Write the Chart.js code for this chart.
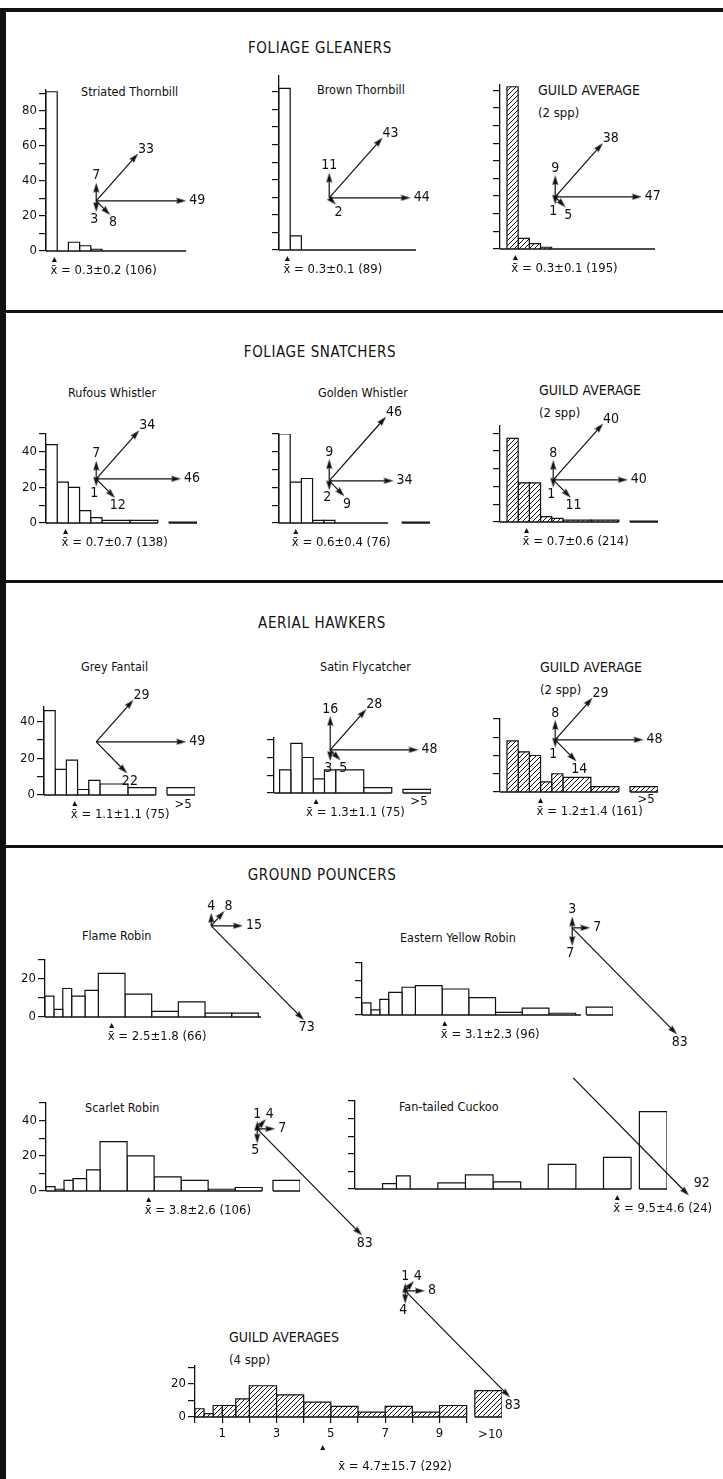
<!DOCTYPE html>
<html>
<head>
<meta charset="utf-8">
<script src="https://cdn.jsdelivr.net/npm/chart.js@4.4.0/dist/chart.umd.min.js"></script>
<style>
  body { margin: 0; background: #fff; }
  #page { position: relative; width: 723px; height: 1479px; overflow: hidden; background: #fff;
          font-family: "DejaVu Sans Condensed", "DejaVu Sans", sans-serif; color: #111; }
  .rule { position: absolute; background: #111; }
  .t { position: absolute; white-space: nowrap; line-height: 1; transform: translateY(-50%); }
  .c { transform: translate(-50%, -50%); }
  canvas { position: absolute; }
</style>
</head>
<body>
<div id="page"></div>
<script>
/* ---------- data ---------- */

const panelTitles = ['FOLIAGE GLEANERS', 'FOLIAGE SNATCHERS', 'AERIAL HAWKERS', 'GROUND POUNCERS'];

const chartIds = ['striated', 'brown', 'gleanerGuild', 'rufous', 'golden', 'snatcherGuild',
                  'fantail', 'satin', 'hawkerGuild', 'flame', 'yellow', 'scarlet', 'cuckoo', 'pouncerGuild'];
const plotNames = [
  ['Striated Thornbill'], ['Brown Thornbill'], ['GUILD AVERAGE', '(2 spp)'],
  ['Rufous Whistler'], ['Golden Whistler'], ['GUILD AVERAGE', '(2 spp)'],
  ['Grey Fantail'], ['Satin Flycatcher'], ['GUILD AVERAGE', '(2 spp)'],
  ['Flame Robin'], ['Eastern Yellow Robin'], ['Scarlet Robin'], ['Fan-tailed Cuckoo'], ['GUILD AVERAGES', '(4 spp)']
];

// time classes (class edges) and the detached last class
const BINS_A   = [0, 0.4, 0.8, 1.2, 1.6, 2, 3, 4];
const OVER_A   = [4.4, 5.4];
const BINS_G8  = [0, 1/3, 2/3, 1, 1.5, 2, 3, 4, 5, 6, 7, 8];
const OVER_G8  = [8.4, 9.4];
const BINS_G10 = [0, 1/3, 2/3, 1, 1.5, 2, 3, 4, 5, 6, 7, 8, 9, 10];
const OVER_G10 = [10.3, 11.3];
const guildTickLabels = [1, 3, 5, 7, 9];

// % of attacks per time class
const striatedPct      = [91, 0, 5, 3, 1, 0, 0];
const brownPct         = [92, 8, 0, 0, 0, 0, 0];
const gleanerGuildPct  = [92, 6, 3, 1, 0, 0, 0];
const rufousPct        = [44, 23, 20, 7, 3, 1.5, 1.5];
const goldenPct        = [50, 23, 25, 1.5, 1.5, 0, 0];
const snatcherGuildPct = [47, 22, 22, 3, 2, 1, 1];
const fantailPct       = [46, 14, 19, 3, 8, 6, 4];
const satinPct         = [13, 28, 20, 8, 13, 13, 3];
const hawkerGuildPct   = [28, 22, 20, 5.5, 10, 8, 3];
const flamePct         = [11, 4, 15, 11, 14, 23, 12, 3, 8, 2, 2];
const yellowPct        = [7, 3, 9, 13, 16, 17, 15, 10, 1.5, 4, 1];
const scarletPct       = [2.5, 1, 6, 7, 12, 28, 20, 8, 6, 1, 2];
const cuckooPct        = [0, 0, 0, 3, 7.5, 0, 3.5, 8, 4, 0, 14, 0, 18];
const pouncerGuildPct  = [5, 2, 7, 7, 11, 19, 13.5, 9, 6.5, 3, 6.5, 3, 7];

const overPct    = [0, 0, 0, 0.5, 0.5, 0.5, 4, 2, 3, 0, 4.5, 6, 44, 16];
const overLabels = ['', '', '', '', '', '', '>5', '>5', '>5', '', '', '', '', '>10'];

// mean ± sd (n)
const meanX = [0.3, 0.3, 0.3, 0.7, 0.6, 0.7, 1.1, 1.3, 1.2, 2.5, 3.1, 3.8, 9.5, 4.7];
const sdX   = [0.2, 0.1, 0.1, 0.7, 0.4, 0.6, 1.1, 1.1, 1.4, 1.8, 2.3, 2.6, 4.6, 15.7];
const nObs  = [106, 89, 195, 138, 76, 214, 75, 75, 161, 66, 96, 106, 24, 292];

// attack directions (%): up, oblique up, horizontal, oblique down, down
const DIRECTIONS = ['up', 'upOblique', 'horizontal', 'downOblique', 'down'];
const striatedDir      = [7, 33, 49, 8, 3];
const brownDir         = [11, 43, 44, 2, null];
const gleanerGuildDir  = [9, 38, 47, 5, 1];
const rufousDir        = [7, 34, 46, 12, 1];
const goldenDir        = [9, 46, 34, 9, 2];
const snatcherGuildDir = [8, 40, 40, 11, 1];
const fantailDir       = [null, 29, 49, 22, null];
const satinDir         = [16, 28, 48, 5, 3];
const hawkerGuildDir   = [8, 29, 48, 14, 1];
const flameDir         = [4, 8, 15, 73, null];
const yellowDir        = [3, null, 7, 83, 7];
const scarletDir       = [1, 4, 7, 83, 5];
const cuckooDir        = [null, null, null, 92, null];
const pouncerGuildDir  = [1, 4, 8, 83, 4];

const pctSeries = [striatedPct, brownPct, gleanerGuildPct, rufousPct, goldenPct, snatcherGuildPct,
                   fantailPct, satinPct, hawkerGuildPct, flamePct, yellowPct, scarletPct, cuckooPct, pouncerGuildPct];
const dirSeries = [striatedDir, brownDir, gleanerGuildDir, rufousDir, goldenDir, snatcherGuildDir,
                   fantailDir, satinDir, hawkerGuildDir, flameDir, yellowDir, scarletDir, cuckooDir, pouncerGuildDir];

/* ---------- layout (pixel positions only) ---------- */

const LAYOUT = {
  striated:      { axisX: 46,  baseY: 251,  ppp: 1.75, yMax: 92, ppu: 28,   xMin: 0,     baseEnd: 5.0, yLabels: true, origin: [92, 200],  name: [81, 92] },
  brown:         { axisX: 279, baseY: 250,  ppp: 1.76, yMax: 99, ppu: 28,   xMin: 0,     baseEnd: 4.9, origin: [325, 197], name: [317, 90] },
  gleanerGuild:  { axisX: 500, baseY: 249,  ppp: 1.76, yMax: 93, ppu: 28,   xMin: -0.25, baseEnd: 5.3, origin: [551, 196], name: [538, 90] },
  rufous:        { axisX: 46,  baseY: 523,  ppp: 1.78, yMax: 50, ppu: 28,   xMin: 0,     baseEnd: 4.0, yLabels: true, origin: [92, 478],  name: [68, 393] },
  golden:        { axisX: 279, baseY: 523,  ppp: 1.78, yMax: 50, ppu: 28,   xMin: 0,     baseEnd: 3.9, origin: [325, 480], name: [318, 393] },
  snatcherGuild: { axisX: 500, baseY: 522,  ppp: 1.78, yMax: 54, ppu: 28,   xMin: -0.25, baseEnd: 4.0, origin: [549, 479], name: [539, 390] },
  fantail:       { axisX: 44,  baseY: 795,  ppp: 1.83, yMax: 48, ppu: 28,   xMin: 0,     baseEnd: 4.0, yLabels: true, origin: [92, 741],  name: [81, 667], overDy: 10 },
  satin:         { axisX: 274, baseY: 793,  ppp: 1.78, yMax: 31, ppu: 28,   xMin: -0.2,  baseEnd: 4.0, origin: [326, 749], name: [320, 667], overDy: 9, textDx: -6 },
  hawkerGuild:   { axisX: 500, baseY: 792,  ppp: 1.83, yMax: 40, ppu: 28,   xMin: -0.25, baseEnd: 4.0, origin: [551, 739], name: [540, 667], overDy: 8 },
  flame:         { axisX: 45,  baseY: 1017, ppp: 1.9,  yMax: 30, ppu: 26.7, xMin: 0,     baseEnd: 8.1, yLabels: true, origin: [207, 925], name: [82, 936] },
  yellow:        { axisX: 362, baseY: 1015, ppp: 1.73, yMax: 30, ppu: 26.7, xMin: 0,     baseEnd: 8.2, origin: [568, 927], name: [400, 938] },
  scarlet:       { axisX: 46,  baseY: 1190, ppp: 1.75, yMax: 50, ppu: 27,   xMin: 0,     baseEnd: 8.0, yLabels: true, origin: [253, 1128], name: [85, 1108] },
  cuckoo:        { axisX: 355, baseY: 1189, ppp: 1.76, yMax: 50, ppu: 27.6, xMin: 0,     baseEnd: 10,  origin: [569, 1077], name: [399, 1107],
                   labelOff: { downOblique: [9, -8, 'left'] } },
  pouncerGuild:  { axisX: 195, baseY: 1417, ppp: 1.63, yMax: 31, ppu: 27.2, xMin: 0,     baseEnd: 10,  yLabels: true, xTicks: true,
                   origin: [401, 1290], name: [229, 1337], hb: 72, markDy: 28, textX: 395, textDy: 50, overDy: 18 }
};
const TITLE_POS = [[320, 48], [320, 352], [322, 623], [322, 875]];
const RULES = [[0, 8, 723, 4], [0, 8, 6, 1471], [0, 310, 723, 3], [0, 580, 723, 3], [0, 845, 723, 3]];

const INK  = '#111';
const FONT = '"DejaVu Sans Condensed", "DejaVu Sans", sans-serif';
const ARROW_PPP = 1.82;
const ANGLE = { up: 90, upOblique: 48, horizontal: 0, downOblique: -45, down: -90 };
const LABEL_OFF = { up: [0, -13, 'center'], upOblique: [4, -9, 'left'], horizontal: [9, 0, 'left'],
                    downOblique: [7, 12, 'center'], down: [-2, 13, 'center'] };

Chart.defaults.font.family = FONT;
Chart.defaults.color = INK;

const page = document.getElementById('page');

/* ---------- helpers ---------- */

function rule(x, y, w, h) {
  const d = document.createElement('div');
  d.className = 'rule';
  Object.assign(d.style, { left: x + 'px', top: y + 'px', width: w + 'px', height: h + 'px' });
  page.appendChild(d);
}

function text(str, x, y, size, centered) {
  const d = document.createElement('div');
  d.className = centered ? 't c' : 't';
  d.textContent = str;
  Object.assign(d.style, { left: x + 'px', top: y + 'px', fontSize: size + 'px' });
  page.appendChild(d);
  return d;
}

const HATCH_TILE = (() => {
  const t = document.createElement('canvas');
  t.width = 5; t.height = 5;
  const c = t.getContext('2d');
  c.fillStyle = '#fff'; c.fillRect(0, 0, 5, 5);
  c.strokeStyle = INK; c.lineWidth = 1;
  c.beginPath();
  c.moveTo(0, 5); c.lineTo(5, 0);
  c.moveTo(-1, 1); c.lineTo(1, -1);
  c.moveTo(4, 6); c.lineTo(6, 4);
  c.stroke();
  return t;
})();

// narrow arrowhead, pointing up, used as a point style
const HEAD = (() => {
  const t = document.createElement('canvas');
  t.width = 7; t.height = 12;
  const c = t.getContext('2d');
  c.fillStyle = INK;
  c.beginPath();
  c.moveTo(3.5, 0); c.lineTo(6.5, 10); c.lineTo(3.5, 8.5); c.lineTo(0.5, 10);
  c.closePath(); c.fill();
  return t;
})();

/* ---- histogram: one outline per class, filled down to the axis ---- */
function histogram(i) {
  const id = chartIds[i], lay = LAYOUT[id];
  const bins = i < 9 ? BINS_A : (id === 'cuckoo' || id === 'pouncerGuild' ? BINS_G10 : BINS_G8);
  const over = i < 9 ? OVER_A : (bins === BINS_G10 ? OVER_G10 : OVER_G8);
  const pct = pctSeries[i];
  const hatched = id.endsWith('Guild');
  const hasOver = overPct[i] > 0;
  const WA = 40, PT = 12, HB = lay.hb || 42, PR = 120;
  const xMax = Math.max(lay.baseEnd, hasOver ? over[1] : 0);
  const W = Math.round(WA + (xMax - lay.xMin) * lay.ppu + PR);
  const H = Math.round(PT + lay.yMax * lay.ppp + HB);

  const cv = document.createElement('canvas');
  cv.width = W; cv.height = H;
  const left = lay.axisX - WA;
  cv.style.left = left + 'px';
  cv.style.top = Math.round(lay.baseY - lay.yMax * lay.ppp - PT) + 'px';
  page.appendChild(cv);
  const fill = hatched ? cv.getContext('2d').createPattern(HATCH_TILE, 'repeat') : '#fff';

  const bars = [];
  pct.forEach((v, k) => { if (v > 0) bars.push([bins[k], bins[k + 1], v]); });
  if (hasOver) bars.push([over[0], over[1], overPct[i]]);

  const datasets = bars.map(([x0, x1, v]) => ({
    data: [{ x: x0, y: 0 }, { x: x0, y: v }, { x: x1, y: v }, { x: x1, y: 0 }],
    borderColor: INK, borderWidth: 1.2, backgroundColor: fill, fill: 'origin',
    pointRadius: 0, tension: 0
  }));

  const decor = {
    id: 'decor',
    afterDatasetsDraw(chart) {
      const { ctx, chartArea: a, scales: { x } } = chart;
      ctx.save();
      ctx.strokeStyle = INK; ctx.lineWidth = 1.3;
      ctx.beginPath();
      ctx.moveTo(a.left, a.bottom);
      ctx.lineTo(x.getPixelForValue(lay.baseEnd), a.bottom);
      if (hasOver) {
        ctx.moveTo(x.getPixelForValue(over[0]), a.bottom);
        ctx.lineTo(x.getPixelForValue(over[1]), a.bottom);
      }
      ctx.stroke();
      // mean marker and label
      const mx = x.getPixelForValue(meanX[i]);
      const my = a.bottom + (lay.markDy || 6);
      ctx.fillStyle = INK;
      ctx.beginPath();
      ctx.moveTo(mx, my); ctx.lineTo(mx - 2.5, my + 5); ctx.lineTo(mx + 2.5, my + 5);
      ctx.closePath(); ctx.fill();
      ctx.font = '13px ' + FONT;
      ctx.textBaseline = 'middle';
      const label = `x\u0304 = ${meanX[i]}\u00b1${sdX[i]} (${nObs[i]})`;
      if (lay.textX != null) {
        ctx.textAlign = 'center';
        ctx.fillText(label, lay.textX - left, a.bottom + lay.textDy);
      } else {
        ctx.textAlign = 'left';
        ctx.fillText(label, mx - 4 + (lay.textDx || 0), a.bottom + 20);
      }
      if (hasOver && overLabels[i]) {
        ctx.textAlign = 'center';
        ctx.fillText(overLabels[i], x.getPixelForValue((over[0] + over[1]) / 2) + 2, a.bottom + lay.overDy);
      }
      ctx.restore();
    }
  };

  new Chart(cv, {
    type: 'line',
    data: { datasets },
    options: {
      responsive: false, animation: false, events: [], devicePixelRatio: 1,
      layout: { padding: { top: PT, right: PR, left: 0, bottom: 0 } },
      plugins: { legend: { display: false }, tooltip: { enabled: false } },
      scales: {
        x: {
          type: 'linear', min: lay.xMin, max: xMax,
          afterFit: s => { s.height = HB; },
          afterBuildTicks: s => {
            if (lay.xTicks) s.ticks = bins.filter(b => Number.isInteger(b)).map(b => ({ value: b }));
          },
          ticks: {
            display: !!lay.xTicks, autoSkip: false, maxRotation: 0, padding: 3,
            font: { size: 13 }, color: INK,
            callback: v => guildTickLabels.includes(v) ? String(v) : ''
          },
          grid: { display: !!lay.xTicks, drawOnChartArea: false, drawTicks: true, tickLength: 6, color: INK, lineWidth: 1.2 },
          border: { display: false }
        },
        y: {
          min: 0, max: lay.yMax,
          afterFit: s => { s.width = WA; },
          ticks: {
            stepSize: 10, includeBounds: false, autoSkip: false, padding: 2,
            font: { size: 13 }, color: INK,
            callback: v => (lay.yLabels && v % 20 === 0) ? String(v) : ''
          },
          grid: { drawOnChartArea: false, drawTicks: true, tickLength: 7, color: INK, lineWidth: 1.2 },
          border: { display: true, color: INK, width: 1.3 }
        }
      }
    },
    plugins: [decor]
  });
}

/* ---- attack-direction arrows, lengths in % ---- */
function arrows(i) {
  const lay = LAYOUT[chartIds[i]];
  const X0 = -14, X1 = 82, Y0 = -78, Y1 = 52;
  const W = Math.round((X1 - X0) * ARROW_PPP), H = Math.round((Y1 - Y0) * ARROW_PPP);
  const cv = document.createElement('canvas');
  cv.width = W; cv.height = H;
  cv.style.left = Math.round(lay.origin[0] + X0 * ARROW_PPP) + 'px';
  cv.style.top = Math.round(lay.origin[1] - Y1 * ARROW_PPP) + 'px';
  page.appendChild(cv);

  const list = DIRECTIONS.map((d, k) => ({ d, v: dirSeries[i][k] })).filter(a => a.v != null);
  const datasets = list.map(a => {
    const t = ANGLE[a.d] * Math.PI / 180;
    return {
      data: [{ x: 0, y: 0 }, { x: a.v * Math.cos(t), y: a.v * Math.sin(t) }],
      borderColor: INK, borderWidth: 1.2, fill: false, tension: 0,
      pointRadius: [0, 4], pointStyle: HEAD, pointRotation: [0, 90 - ANGLE[a.d]]
    };
  });

  const labels = {
    id: 'arrowLabels',
    afterDatasetsDraw(chart) {
      const ctx = chart.ctx;
      ctx.save();
      ctx.fillStyle = INK;
      ctx.font = '14px ' + FONT;
      ctx.textBaseline = 'middle';
      list.forEach((a, k) => {
        const p = chart.getDatasetMeta(k).data[1];
        const [dx, dy, al] = (lay.labelOff && lay.labelOff[a.d]) || LABEL_OFF[a.d];
        ctx.textAlign = al;
        ctx.fillText(String(a.v), p.x + dx, p.y + dy);
      });
      ctx.restore();
    }
  };

  new Chart(cv, {
    type: 'line',
    data: { datasets },
    options: {
      responsive: false, animation: false, events: [], devicePixelRatio: 1,
      layout: { padding: 0 },
      plugins: { legend: { display: false }, tooltip: { enabled: false } },
      scales: {
        x: { type: 'linear', display: false, min: X0, max: X1 },
        y: { type: 'linear', display: false, min: Y0, max: Y1 }
      }
    },
    plugins: [labels]
  });
}

/* ---------- build ---------- */
RULES.forEach(r => rule(...r));
panelTitles.forEach((t, k) => {
  const d = text(t, TITLE_POS[k][0], TITLE_POS[k][1], 15, true);
  d.style.letterSpacing = '0.6px';
});
chartIds.forEach((id, i) => {
  const [nx, ny] = LAYOUT[id].name;
  plotNames[i].forEach((line, k) => {
    const guild = plotNames[i].length > 1;
    text(line, nx, ny + k * 22, guild ? (k === 0 ? 14 : 13) : 12.5, false);
  });
});
chartIds.forEach((id, i) => histogram(i));
chartIds.forEach((id, i) => arrows(i));
</script>
</body>
</html>
